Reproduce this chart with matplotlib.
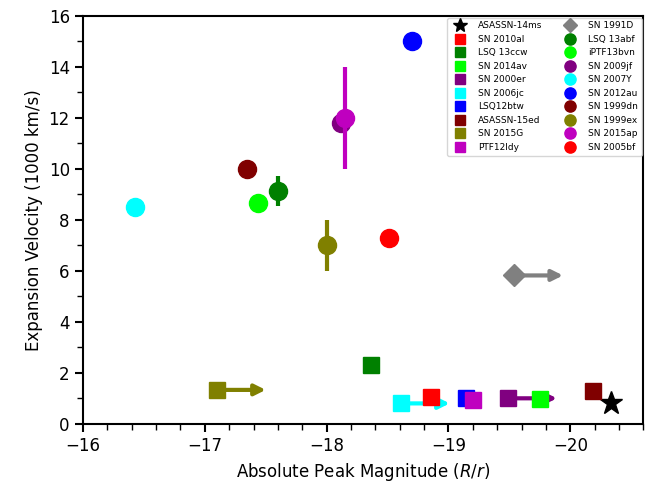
import numpy as np
import matplotlib
matplotlib.use("Agg")
import matplotlib.pyplot as plt
from matplotlib.ticker import MultipleLocator, AutoMinorLocator

# lower limits on velocity drawn as squares (plus the star)
sq_names = ["ASASSN-14ms", "SN 2010al", "LSQ 13ccw", "SN 2014av", "SN 2000er",
            "SN 2006jc", "LSQ12btw", "ASASSN-15ed", "SN 2015G", "PTF12ldy"]
sq_mag = [-20.33, -18.86, -18.36, -19.75, -19.49, -18.61, -19.14, -20.19, -17.10, -19.20]
sq_vel = [0.82, 1.05, 2.3, 0.97, 1.0, 0.8, 1.0, 1.3, 1.33, 0.94]
sq_col = ["k", "r", "g", "lime", "purple", "cyan", "b", "maroon", "olive", "m"]
sq_mark = ["*", "s", "s", "s", "s", "s", "s", "s", "s", "s"]

# SNe with measured velocities (circles, plus SN 1991D diamond)
ci_names = ["SN 1991D", "LSQ 13abf", "iPTF13bvn", "SN 2009jf", "SN 2007Y",
            "SN 2012au", "SN 1999dn", "SN 1999ex", "SN 2015ap", "SN 2005bf"]
ci_mag = [-19.54, -17.60, -17.44, -18.12, -16.43, -18.70, -17.35, -18.00, -18.15, -18.51]
ci_vel = [5.82, 9.13, 8.67, 11.8, 8.5, 15.0, 10.0, 7.0, 12.0, 7.3]
ci_err = [0, 0.6, 0, 0, 0, 0, 0, 1.0, 2.0, 0]
ci_col = ["gray", "g", "lime", "purple", "cyan", "b", "maroon", "olive", "m", "r"]
ci_mark = ["D", "o", "o", "o", "o", "o", "o", "o", "o", "o"]

# objects whose magnitude is only a limit (arrow toward brighter)
arrow_idx_sq = [4, 5, 8]   # SN 2000er, SN 2006jc, SN 2015G
arrow_idx_ci = [0]         # SN 1991D
arrow_len = 0.4

fig = plt.figure(figsize=(6.64, 4.98), dpi=100)
ax = fig.add_axes([0.125, 0.149, 0.844, 0.819])

def draw_arrow(x, y, c):
    ax.annotate("", xy=(x - arrow_len, y), xytext=(x, y),
                arrowprops=dict(arrowstyle="-|>", color=c, lw=3,
                                mutation_scale=16, shrinkA=0, shrinkB=0),
                zorder=1)

for i in arrow_idx_sq:
    draw_arrow(sq_mag[i], sq_vel[i], sq_col[i])
for i in arrow_idx_ci:
    draw_arrow(ci_mag[i], ci_vel[i], ci_col[i])

handles = []
for n, x, y, c, mk in zip(sq_names, sq_mag, sq_vel, sq_col, sq_mark):
    ms = 17 if mk == "*" else 11.7
    h, = ax.plot(x, y, mk, color=c, ms=ms, label=n, zorder=2)
    handles.append(h)

for n, x, y, e, c, mk in zip(ci_names, ci_mag, ci_vel, ci_err, ci_col, ci_mark):
    ms = 10.7 if mk == "D" else 13
    if e > 0:
        ax.errorbar(x, y, yerr=e, fmt="none", ecolor=c, elinewidth=3,
                    capsize=0, zorder=2)
    h, = ax.plot(x, y, mk, color=c, ms=ms, label=n, zorder=2)
    handles.append(h)

ax.set_xlim(-16, -20.6)
ax.set_ylim(0, 16)
ax.xaxis.set_major_locator(MultipleLocator(1))
ax.xaxis.set_minor_locator(MultipleLocator(0.2))
ax.yaxis.set_major_locator(MultipleLocator(2))
ax.yaxis.set_minor_locator(AutoMinorLocator(2))
ax.tick_params(which="major", labelsize=12, length=6, width=1.5)
ax.tick_params(which="minor", length=4, width=1)
for s in ax.spines.values():
    s.set_linewidth(1.5)

ax.set_xlabel("Absolute Peak Magnitude ($R/r$)", fontsize=12)
ax.set_ylabel("Expansion Velocity (1000 km/s)", fontsize=12)

ax.legend(handles, [h.get_label() for h in handles], ncol=2, fontsize=6.5,
          loc="upper right", markerscale=0.62, numpoints=1, borderaxespad=0.2,
          columnspacing=2.1, handletextpad=1.0)

fig.savefig("out.png", dpi=100)
